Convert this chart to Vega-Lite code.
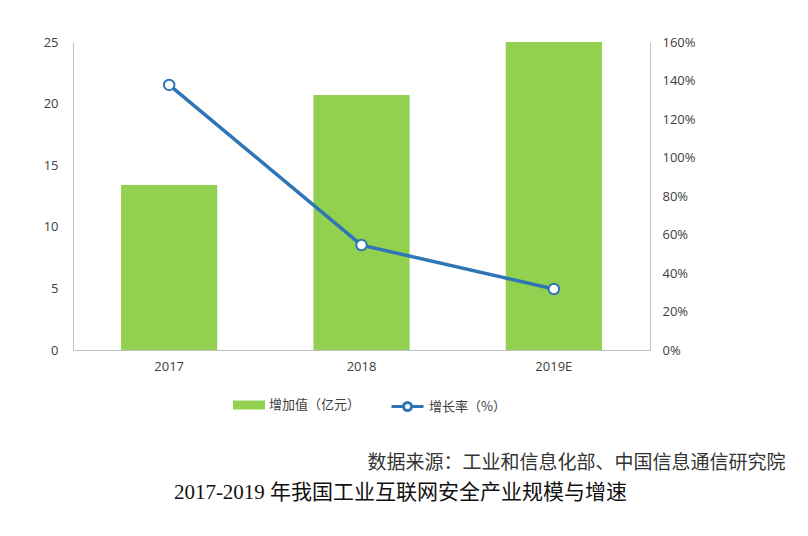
{
  "$schema": "https://vega.github.io/schema/vega-lite/v6.json",
  "autosize": "none",
  "width": 577,
  "height": 308,
  "padding": {"left": 73, "top": 42, "right": 158, "bottom": 186},
  "background": "white",
  "data": {"values": [
    {"year": "2017", "value": 13.4, "rate": 1.377},
    {"year": "2018", "value": 20.7, "rate": 0.545},
    {"year": "2019E", "value": 25.0, "rate": 0.317}
  ]},
  "title": {
    "text": "2017-2019 年我国工业互联网安全产业规模与增速",
    "orient": "bottom",
    "anchor": "middle",
    "frame": "group",
    "dx": 39,
    "offset": 10,
    "font": "Liberation Serif, Noto Sans CJK SC",
    "fontSize": 21,
    "fontWeight": "normal",
    "color": "#111111"
  },
  "encoding": {
    "x": {
      "field": "year", "type": "nominal", "sort": null,
      "scale": {"paddingInner": 0.5, "paddingOuter": 0.25},
      "axis": {
        "labelAngle": 0, "ticks": false, "domainColor": "#bfbfbf",
        "labelPadding": 10, "labelFontSize": 13, "labelColor": "#404040",
        "labelFont": "Open Sans",
        "title": "数据来源：工业和信息化部、中国信息通信研究院",
        "titleX": 712, "titleY": 118, "titleAlign": "right", "titleAnchor": "end",
        "titleBaseline": "alphabetic",
        "titleFont": "Noto Sans CJK SC", "titleFontSize": 19, "titleFontWeight": "normal",
        "titleColor": "#333333"
      }
    }
  },
  "layer": [
    {
      "mark": {"type": "bar"},
      "encoding": {
        "y": {
          "field": "value", "type": "quantitative",
          "scale": {"domain": [0, 25], "nice": false},
          "axis": {
            "title": null, "values": [0, 5, 10, 15, 20, 25], "grid": false, "ticks": false,
            "domainColor": "#bfbfbf", "labelPadding": 15, "labelFontSize": 13,
            "labelColor": "#404040", "labelFont": "Open Sans"
          }
        },
        "fill": {
          "datum": "增加值（亿元）",
          "scale": {"range": ["#92d050"]},
          "legend": {
            "orient": "none", "legendX": 160, "legendY": 347, "title": null,
            "symbolType": "M-1,-0.28L1,-0.28L1,0.28L-1,0.28Z",
            "symbolSize": 1024, "symbolStrokeWidth": 0,
            "labelFont": "Noto Sans CJK SC", "labelFontSize": 13, "labelColor": "#404040",
            "labelOffset": 4
          }
        }
      }
    },
    {
      "mark": {
        "type": "line", "strokeWidth": 3.5,
        "point": {"filled": false, "fill": "white", "size": 110, "strokeWidth": 2, "opacity": 1, "fillOpacity": 1}
      },
      "encoding": {
        "y": {
          "field": "rate", "type": "quantitative",
          "scale": {"domain": [0, 1.6], "nice": false},
          "axis": {
            "title": null, "orient": "right", "format": ".0%",
            "values": [0, 0.2, 0.4, 0.6, 0.8, 1.0, 1.2, 1.4, 1.6],
            "grid": false, "ticks": false, "domainColor": "#bfbfbf",
            "labelPadding": 12, "labelFontSize": 13, "labelColor": "#404040",
            "labelFont": "Open Sans"
          }
        },
        "stroke": {
          "datum": "增长率（%）",
          "scale": {"range": ["#2e75b6"]},
          "legend": {
            "orient": "none", "legendX": 317, "legendY": 347, "title": null,
            "symbolType": "M-1,0L-0.25,0M0.25,0L1,0M-0.25,0A0.25,0.25,0,1,0,0.25,0A0.25,0.25,0,1,0,-0.25,0",
            "symbolSize": 1024, "symbolStrokeWidth": 3, "symbolFillColor": "white",
            "labelFont": "Noto Sans CJK SC", "labelFontSize": 13, "labelColor": "#404040",
            "labelOffset": 4
          }
        }
      }
    }
  ],
  "resolve": {"scale": {"y": "independent"}},
  "config": {"view": {"stroke": null}}
}
